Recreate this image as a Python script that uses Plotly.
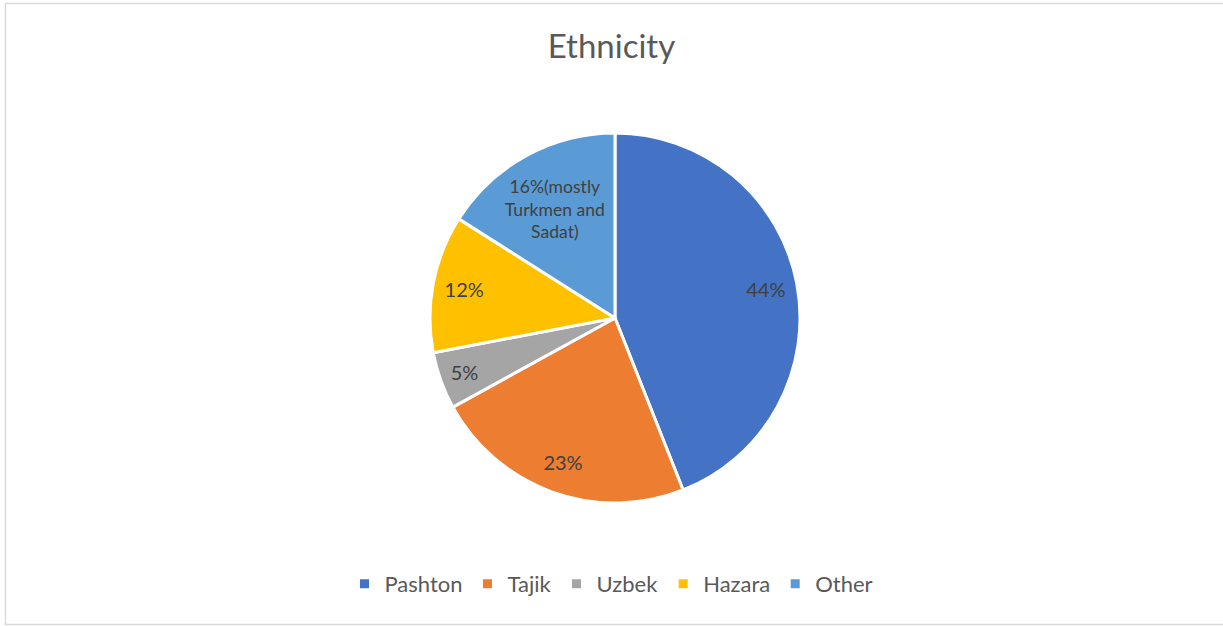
import plotly.graph_objects as go

# Ethnic composition (percent)
groups = ["Pashton", "Tajik", "Uzbek", "Hazara", "Other"]
shares = [44, 23, 5, 12, 16]
value_text = ["44%", "23%", "5%", "12%", ""]
note_text = ["", "", "", "", "16%(mostly<br>Turkmen and<br>Sadat)"]
colors = ["#4472C4", "#ED7D31", "#A5A5A5", "#FFC000", "#5B9BD5"]

W, H = 1223, 626
cx, cy, r = 615, 318, 185
FONT = "Lato, Open Sans, sans-serif"
domain = dict(x=[(cx - r) / W, (cx + r) / W], y=[1 - (cy + r) / H, 1 - (cy - r) / H])
common = dict(labels=groups, values=shares, sort=False, direction="clockwise",
              rotation=0, domain=domain, textposition="inside",
              insidetextorientation="horizontal", texttemplate="%{text}",
              textfont=dict(family=FONT, size=20, color="#404040"))

fig = go.Figure()
# Filled slices; carries the multi-line note for "Other"
fig.add_trace(go.Pie(
    text=note_text,
    marker=dict(colors=colors, line=dict(color="white", width=3)),
    hoverinfo="label+percent",
    **common,
))
# Transparent ring on top so the percentage labels sit near the rim
fig.add_trace(go.Pie(
    text=value_text,
    hole=0.66,
    marker=dict(colors=["rgba(0,0,0,0)"] * len(groups), line=dict(width=0)),
    showlegend=False,
    hoverinfo="skip",
    **common,
))

fig.update_layout(
    width=W, height=H,
    margin=dict(l=0, r=0, t=0, b=0),
    paper_bgcolor="white",
    title=dict(text="Ethnicity", x=0.5, xanchor="center", y=1 - 46 / H, yanchor="middle",
               font=dict(family=FONT, size=33, color="#595959")),
    legend=dict(orientation="h", x=0.5, xanchor="center", y=1 - 584 / H, yanchor="middle",
                font=dict(family=FONT, size=22, color="#595959"),
                itemwidth=30, traceorder="normal"),
    shapes=[dict(type="rect", xref="paper", yref="paper",
                 x0=5.5 / W, x1=1.01, y0=1 - 624.5 / H, y1=1 - 3.5 / H,
                 line=dict(color="#D9D9D9", width=1.5))],
)

fig.write_html("out.html")
